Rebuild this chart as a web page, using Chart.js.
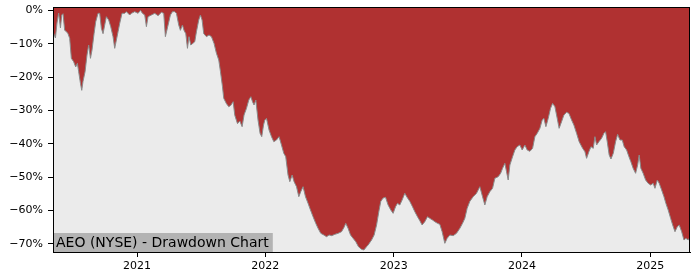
<!DOCTYPE html>
<html lang="en">

<head>
    <meta charset="utf-8">
    <title>AEO (NYSE) - Drawdown Chart</title>
    <style>
        body { margin: 0; background: #fff; }
    </style>
</head>

<body>
    <canvas id="myChart" width="700" height="280"></canvas>

    <script src="https://cdn.jsdelivr.net/npm/chart.js@4.4.0/dist/chart.umd.min.js"></script>
    <script>
        // time as decimal years, drawdown in percent
        const years = [
            2020.345, 2020.364, 2020.376, 2020.389, 2020.403, 2020.413, 2020.423, 2020.436, 2020.450, 2020.462,
            2020.475, 2020.488, 2020.506, 2020.522, 2020.535, 2020.545, 2020.559, 2020.569, 2020.579, 2020.595,
            2020.610, 2020.623, 2020.637, 2020.649, 2020.665, 2020.678, 2020.696, 2020.709, 2020.722, 2020.735,
            2020.748, 2020.761, 2020.779, 2020.795, 2020.813, 2020.826, 2020.839, 2020.852, 2020.865, 2020.883,
            2020.904, 2020.917, 2020.943, 2020.956, 2020.982, 2021.008, 2021.027, 2021.042, 2021.060, 2021.073,
            2021.086, 2021.112, 2021.138, 2021.164, 2021.190, 2021.208, 2021.221, 2021.242, 2021.260, 2021.276,
            2021.294, 2021.307, 2021.325, 2021.338, 2021.354, 2021.366, 2021.380, 2021.393, 2021.405, 2021.419,
            2021.432, 2021.450, 2021.463, 2021.481, 2021.494, 2021.507, 2021.520, 2021.541, 2021.561, 2021.580,
            2021.600, 2021.619, 2021.637, 2021.650, 2021.666, 2021.676, 2021.697, 2021.715, 2021.731, 2021.749,
            2021.762, 2021.783, 2021.801, 2021.819, 2021.834, 2021.853, 2021.871, 2021.887, 2021.900, 2021.912,
            2021.926, 2021.943, 2021.959, 2021.972, 2021.986, 2021.996, 2022.009, 2022.029, 2022.048, 2022.066,
            2022.087, 2022.107, 2022.126, 2022.144, 2022.159, 2022.177, 2022.191, 2022.209, 2022.224, 2022.243,
            2022.261, 2022.276, 2022.294, 2022.313, 2022.333, 2022.352, 2022.372, 2022.393, 2022.411, 2022.432,
            2022.456, 2022.477, 2022.497, 2022.518, 2022.542, 2022.567, 2022.594, 2022.612, 2022.627, 2022.645,
            2022.664, 2022.684, 2022.705, 2022.726, 2022.750, 2022.768, 2022.789, 2022.801, 2022.828, 2022.848,
            2022.867, 2022.885, 2022.900, 2022.918, 2022.937, 2022.957, 2022.978, 2022.996, 2023.015, 2023.030,
            2023.048, 2023.066, 2023.087, 2023.105, 2023.126, 2023.147, 2023.165, 2023.186, 2023.204, 2023.222,
            2023.243, 2023.264, 2023.282, 2023.303, 2023.321, 2023.342, 2023.360, 2023.378, 2023.399, 2023.417,
            2023.438, 2023.464, 2023.490, 2023.516, 2023.537, 2023.555, 2023.573, 2023.594, 2023.620, 2023.646,
            2023.672, 2023.693, 2023.711, 2023.729, 2023.750, 2023.771, 2023.789, 2023.815, 2023.834, 2023.849,
            2023.867, 2023.880, 2023.893, 2023.906, 2023.927, 2023.945, 2023.963, 2023.984, 2024.002, 2024.023,
            2024.041, 2024.062, 2024.083, 2024.101, 2024.119, 2024.140, 2024.158, 2024.171, 2024.187, 2024.205,
            2024.223, 2024.239, 2024.257, 2024.275, 2024.290, 2024.309, 2024.327, 2024.348, 2024.366, 2024.387,
            2024.405, 2024.426, 2024.446, 2024.473, 2024.491, 2024.504, 2024.522, 2024.538, 2024.556, 2024.569,
            2024.582, 2024.600, 2024.621, 2024.639, 2024.652, 2024.665, 2024.680, 2024.694, 2024.712, 2024.730,
            2024.746, 2024.764, 2024.782, 2024.797, 2024.816, 2024.834, 2024.849, 2024.867, 2024.886, 2024.902,
            2024.914, 2024.927, 2024.945, 2024.964, 2024.984, 2025.003, 2025.023, 2025.037, 2025.055, 2025.070,
            2025.089, 2025.107, 2025.122, 2025.140, 2025.159, 2025.175, 2025.193, 2025.211, 2025.226, 2025.245,
            2025.263, 2025.278, 2025.296, 2025.310
        ];
        const drawdown = [
            -6.4, -8.3, -3.8, -0.8, -5.3, -1.4, -1.0, -6.0, -6.4, -7.0,
            -8.4, -14.4, -15.4, -17.0, -15.9, -18.4, -21.9, -24.0, -21.3, -18.4,
            -13.4, -10.4, -14.4, -11.9, -7.0, -3.4, -0.9, -0.9, -5.4, -7.0,
            -4.4, -1.9, -2.9, -4.9, -7.9, -11.4, -8.9, -6.4, -3.9, -0.9,
            -0.9, -0.4, -1.4, -0.9, -0.4, -0.9, 0, -0.9, -1.4, -4.9,
            -1.9, -1.4, -0.9, -1.6, -0.6, -0.9, -7.9, -4.4, -1.4, -0.4,
            -0.4, -0.9, -4.4, -6.0, -4.4, -6.0, -7.0, -11.4, -7.9, -10.4,
            -10.0, -9.4, -6.4, -2.9, -1.4, -2.9, -7.0, -7.9, -7.4, -7.9,
            -9.9, -12.9, -14.9, -18.3, -22.9, -26.4, -28.0, -28.9, -28.5, -27.4,
            -31.5, -34.0, -33.2, -34.9, -31.4, -29.4, -26.9, -25.9, -27.4, -28.4,
            -26.9, -32.9, -36.9, -37.9, -34.4, -32.9, -32.4, -35.9, -37.9, -39.4,
            -38.9, -37.9, -40.4, -42.9, -43.9, -49.4, -51.4, -49.4, -51.4, -52.9,
            -55.9, -54.4, -52.9, -55.9, -57.9, -59.9, -61.9, -63.9, -65.4, -66.9,
            -67.4, -67.9, -67.4, -67.6, -67.2, -66.9, -66.4, -65.2, -63.9, -65.4,
            -67.4, -68.4, -69.4, -70.9, -71.7, -71.9, -70.9, -70.4, -68.9, -67.4,
            -64.4, -60.3, -57.3, -56.3, -56.1, -58.4, -59.9, -60.9, -58.9, -57.9,
            -58.4, -56.9, -54.9, -56.1, -57.3, -58.9, -60.4, -61.9, -63.1, -64.4,
            -63.4, -61.9, -62.4, -62.9, -63.4, -63.9, -64.2, -66.4, -69.9, -68.4,
            -67.4, -67.6, -66.9, -65.4, -63.9, -62.4, -59.4, -57.3, -55.9, -54.9,
            -52.9, -55.9, -58.4, -55.9, -54.4, -53.4, -50.4, -49.9, -48.9, -47.4,
            -45.9, -48.4, -50.9, -46.4, -43.9, -41.9, -40.9, -40.4, -41.9, -40.4,
            -41.9, -42.3, -41.4, -37.9, -36.9, -35.4, -32.9, -32.4, -34.9, -32.4,
            -29.4, -27.9, -28.9, -32.4, -35.4, -33.4, -31.4, -30.6, -30.9, -32.9,
            -34.4, -36.9, -39.4, -41.4, -42.4, -44.4, -42.4, -40.9, -41.4, -37.9,
            -40.4, -39.4, -38.4, -36.9, -36.4, -39.4, -43.4, -44.6, -42.9, -39.4,
            -37.2, -38.9, -38.9, -40.9, -41.9, -43.9, -45.4, -47.4, -48.9, -46.4,
            -43.4, -47.4, -48.9, -50.9, -51.9, -52.4, -51.9, -53.4, -50.9, -51.9,
            -53.9, -55.9, -57.9, -59.9, -62.4, -64.4, -66.4, -64.9, -64.4, -66.4,
            -68.9, -68.4, -68.9, -68.0
        ];
        const xTicks = [2021, 2022, 2023, 2024, 2025];
        const yTicks = [-70, -60, -50, -40, -30, -20, -10, 0];
        const title = 'AEO (NYSE) - Drawdown Chart';

        const points = years.map((t, i) => ({ x: t, y: drawdown[i] }));
        const font = { family: 'DejaVu Sans', size: 11 };

        // gray plot background + top/right spines + label box
        const frame = {
            id: 'frame',
            beforeDatasetsDraw(chart) {
                const a = chart.chartArea, ctx = chart.ctx;
                ctx.save();
                ctx.fillStyle = '#ebebeb';
                ctx.fillRect(a.left, a.top, a.right - a.left, a.bottom - a.top);
                ctx.restore();
            },
            afterDraw(chart) {
                const a = chart.chartArea, ctx = chart.ctx;
                ctx.save();
                ctx.font = '14px "DejaVu Sans"';
                let w = ctx.measureText(title).width;
                ctx.fillStyle = '#b3b3b3';
                ctx.fillRect(a.left, a.bottom - 19, w + 7, 19);
                ctx.fillStyle = '#000';
                ctx.textBaseline = 'alphabetic';
                ctx.fillText(title, a.left + 3, a.bottom - 5);
                ctx.strokeStyle = '#000';
                ctx.lineWidth = 1;
                ctx.strokeRect(a.left + 0.5, a.top + 0.5, a.right - a.left - 1, a.bottom - a.top);
                ctx.restore();
            }
        };

        var ctx = document.getElementById('myChart').getContext('2d');
        var chart = new Chart(ctx, {
            type: 'line',
            data: {
                datasets: [{
                    data: points,
                    borderColor: '#8a8a8a',
                    borderWidth: 1,
                    backgroundColor: '#b03131',
                    fill: 'end',
                    pointRadius: 0,
                    tension: 0
                }]
            },
            options: {
                responsive: false,
                animation: false,
                layout: { padding: { top: 7, right: 10, left: 0, bottom: 0 } },
                plugins: { legend: { display: false }, tooltip: { enabled: false } },
                scales: {
                    x: {
                        type: 'linear',
                        min: 2020.345,
                        max: 2025.31,
                        afterBuildTicks: s => { s.ticks = xTicks.map(v => ({ value: v })); },
                        afterFit: s => { s.height = 28; },
                        ticks: { color: '#000', font: font, padding: 3, maxRotation: 0, callback: v => String(v) },
                        grid: { drawOnChartArea: false, drawTicks: true, tickLength: 5, color: '#000' },
                        border: { display: true, color: '#000', width: 1 }
                    },
                    y: {
                        min: -72.5,
                        max: 1,
                        afterBuildTicks: s => { s.ticks = yTicks.map(v => ({ value: v })); },
                        afterFit: s => { s.width = 53; s.paddingTop = 0; },
                        ticks: { color: '#000', font: font, padding: 5, callback: v => String(v).replace('-', '\u2212') + '%' },
                        grid: { drawOnChartArea: false, drawTicks: true, tickLength: 5, color: '#000' },
                        border: { display: true, color: '#000', width: 1 }
                    }
                }
            },
            plugins: [frame]
        });
    </script>
</body>

</html>
